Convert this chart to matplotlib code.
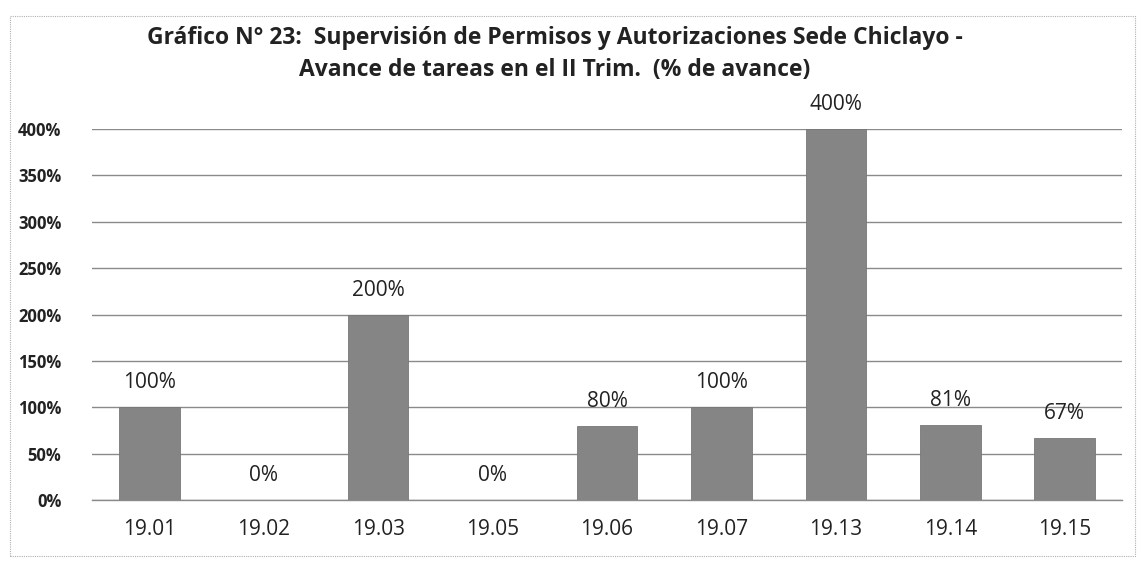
import matplotlib
matplotlib.use("Agg")
import matplotlib.pyplot as plt
from matplotlib.patches import Rectangle

categories = ["19.01", "19.02", "19.03", "19.05", "19.06", "19.07", "19.13", "19.14", "19.15"]
values = [100, 0, 200, 0, 80, 100, 400, 81, 67]
yticks = [0, 50, 100, 150, 200, 250, 300, 350, 400]
title = "Gráfico N° 23:  Supervisión de Permisos y Autorizaciones Sede Chiclayo -\nAvance de tareas en el II Trim.  (% de avance)"

plt.rcParams['font.family'] = ['Open Sans', 'DejaVu Sans']

W, H = 1141, 564
fig = plt.figure(figsize=(W / 100, H / 100), dpi=100)
fig.patch.set_facecolor("white")

# chart frame
fig.patches.append(Rectangle((10 / W, 8 / H), 1125 / W, 540 / H, transform=fig.transFigure,
                             fill=False, edgecolor="#b0b0b0", linewidth=0.8, linestyle=(0, (1, 1))))

ax = fig.add_axes([92 / W, 1 - 500 / H, (1122 - 92) / W, (500 - 129) / H])
x = list(range(len(categories)))
bars = ax.bar(x, values, width=0.53, color="#858585", edgecolor="#777777", linewidth=0.6, zorder=3)

ax.set_xlim(-0.5, len(categories) - 0.5)
ax.set_ylim(0, 400)
ax.set_yticks(yticks)
ax.set_yticklabels([f"{v}%" for v in yticks], fontsize=12, fontweight="bold", color="#222222")
ax.set_xticks(x)
ax.set_xticklabels(categories, fontsize=15, color="#222222")
ax.tick_params(axis="both", length=0)
ax.tick_params(axis="y", pad=22)
ax.tick_params(axis="x", pad=14)
ax.grid(axis="y", color="#8a8a8a", linewidth=1.0, zorder=0)
for s in ["top", "right", "left"]:
    ax.spines[s].set_visible(False)
ax.spines["bottom"].set_color("#8a8a8a")
ax.spines["bottom"].set_linewidth(1.0)
ax.set_axisbelow(True)

for xi, v in zip(x, values):
    ax.annotate(f"{v}%", (xi, v), xytext=(0, 10), textcoords="offset points",
                ha="center", va="bottom", fontsize=15, color="#222222")

fig.text(555 / W, 1 - 54 / H, title, ha="center", va="center", fontsize=16.5,
         fontweight="bold", color="#222222", linespacing=1.45)

fig.savefig("out.png", dpi=100)
